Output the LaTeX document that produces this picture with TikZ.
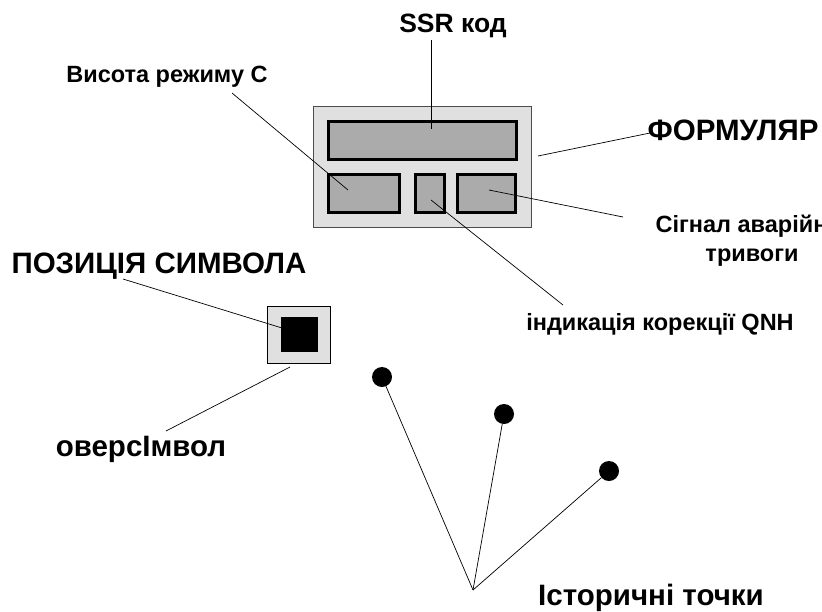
\documentclass[tikz,border=0pt]{standalone}
\usepackage{fontspec}
\setmainfont{Liberation Sans}
\usepackage{xcolor}
\usepackage{tikz}
\usetikzlibrary{
  positioning,
  calc
}

\begin{document}
\begin{tikzpicture}[
  x=1pt, y=-1pt,
  smalllabel/.style={
    font=\fontsize{23.5}{28.5}\selectfont\bfseries,
    inner sep=0pt,
    anchor=base,
    align=center
  },
  biglabel/.style={
    font=\fontsize{29.5}{34}\selectfont\bfseries,
    inner sep=0pt,
    anchor=base
  },
  formbox/.style={
    rectangle,
    draw=black!70,
    fill=black!12,
    line width=0.8pt
  },
  fieldbox/.style={
    rectangle,
    draw=black,
    fill=black!33,
    line width=2.6pt
  },
  histdot/.style={
    circle,
    fill=black,
    minimum size=20pt,
    inner sep=0pt
  },
  lead/.style={
    line width=0.7pt,
    draw=black
  }
]

\useasboundingbox (0,0) rectangle (822,611);
\clip (0,0) rectangle (822,611);

% Form (track label block)
\draw[formbox] (313,106) rectangle (531,227);
\draw[fieldbox] (328.5,121.5) rectangle (516.5,159.5);
\draw[fieldbox] (328.5,174.5) rectangle (399.5,212.5);
\draw[fieldbox] (415.5,174.5) rectangle (444.5,212.5);
\draw[fieldbox] (457.5,174.5) rectangle (515.5,212.5);

% Symbol position
\draw[formbox, draw=black] (267,306) rectangle (330,363);
\fill[black] (281,317) rectangle (318,352);

% History dots
\node[histdot] (h1) at (382,377) {};
\node[histdot] (h2) at (504,414) {};
\node[histdot] (h3) at (609,471) {};

% Labels
\node[smalllabel, font=\fontsize{26.5}{30}\selectfont\bfseries] (ssrlab) at (453,32) {SSR код};
\node[smalllabel] (altlab) at (167,82) {Висота режиму С};
\node[biglabel] (formlab) at (733,140) {ФОРМУЛЯР};
\node[smalllabel] (alarmlab) at (752,261) {Сігнал аварійної\\тривоги};
\node[smalllabel] (qnhlab) at (660,330) {індикація корекції QNH};
\node[biglabel] (poslab) at (159,273) {ПОЗИЦІЯ СИМВОЛА};
\node[biglabel] (overlab) at (141,456) {оверсІмвол};
\node[biglabel] (histlab) at (651,605) {Історичні точки};

% Leader line ends
\coordinate (ssrin) at (431,129);
\coordinate (ssrout) at (431,40);
\coordinate (altin) at (348,190);
\coordinate (altout) at (232,93);
\coordinate (formin) at (538,156);
\coordinate (formout) at (650,133);
\coordinate (alarmin) at (489,190);
\coordinate (alarmout) at (623,217);
\coordinate (qnhin) at (431,200);
\coordinate (qnhout) at (563,305);
\coordinate (posin) at (282,328);
\coordinate (posout) at (123,279);
\coordinate (overin) at (290,367);
\coordinate (overout) at (166,431);
\coordinate (histout) at (473,590);

% Leader lines
\draw[lead] (ssrin) -- (ssrout);
\draw[lead] (altin) -- (altout);
\draw[lead] (formin) -- (formout);
\draw[lead] (alarmin) -- (alarmout);
\draw[lead] (qnhin) -- (qnhout);
\draw[lead] (posin) -- (posout);
\draw[lead] (overin) -- (overout);
\draw[lead] (histout) -- (h1);
\draw[lead] (histout) -- (h2);
\draw[lead] (histout) -- (h3);

\end{tikzpicture}
\end{document}
